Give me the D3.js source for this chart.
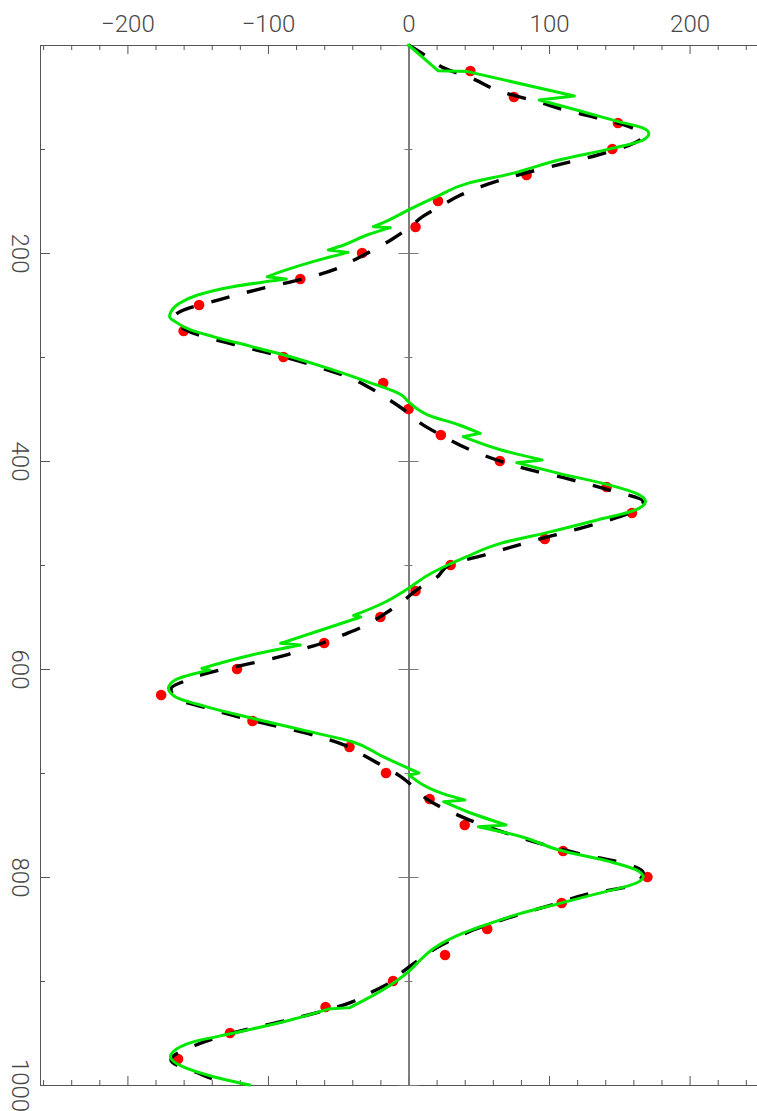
<!DOCTYPE html>
<html><head><meta charset="utf-8">
<script src="https://cdn.jsdelivr.net/npm/d3@7"></script>
<style>body{margin:0;background:#fff} svg{display:block}</style>
</head><body>
<svg id="c" width="757" height="1111"></svg>
<script>
// ---- data ----
const xMajorTicks = [-200, -100, 0, 100, 200];
const xMinorTicks = [-260,-240,-220,-180,-160,-140,-120,-80,-60,-40,-20,20,40,60,80,120,140,160,180,220,240,260];
const yMajorTicks = [0, 200, 400, 600, 800, 1000];
const yMinorTicks = [100, 300, 500, 700, 900];

const dotDepth = [25,50,75,100,125,150,175,200,225,250,275,300,325,350,375,400,425,450,475,500,525,550,575,600,625,650,675,700,725,750,775,800,825,850,875,900,925,950,975];
const dotValue = [44,75,149,145,84,21,5,-33,-77,-149,-160,-89,-18,0,23,65,141,159,97,30,5,-20,-60,-122,-176,-111,-42,-16,15,40,110,170,109,56,26,-11,-59,-127,-164];

const dashDepth = [0,11,22,32,45,55,61,70,79,88,94,106,115,125,136,145,154,165,176,187,197,207,215,225,234,245,256,262,271,278,288,297,308,321,330,340,350,364,375,391,400,409,417,428,439,449,458,468,477,490,500,512,521,539,547,559,567,575,580,587,596,600,604,611,619,628,637,650,662,673,683,692,703,715,726,736,745,758,769,779,787,796,808,816,826,838,851,859,868,878,891,902,912,920,937,950,962,976,990,1000];
const dashValue = [0,13,25,45,66,93,107,134,158,167,161,134,107,78,52,36,24,10,0,-12,-25,-39,-51,-75,-104,-135,-162,-167,-162,-151,-124,-97,-68,-40,-27,-15,-4,9,23,47,65,88,113,143,167,159,140,113,88,55,29,20,9,-8,-17,-32,-46,-61,-73,-88,-117,-131,-143,-158,-169,-166,-145,-110,-72,-46,-32,-20,-6,5,14,28,43,70,97,126,154,167,159,129,104,74,46,33,20,9,-4,-14,-28,-40,-84,-125,-152,-169,-147,-128];

const greenDepth = [0,24.7,25.6,49,52.9,63,73.7,80,85,91.3,99.4,110.6,123.4,133,145.8,158.6,168.3,174.7,175.6,182.7,192.3,197.1,199.4,208.3,216.3,222.8,225,232.4,240.4,248.4,256.4,261.2,266,274,280.4,290,299.7,311,323.7,336.5,343,355.8,365.4,373.4,376.6,389.4,399,401.6,411.9,423,431,439,447,456.7,467.9,479,491.9,500,509.6,522.4,537,548.5,550,562.5,575.3,577,586.5,599.4,601,610.6,618.6,626.6,636.2,649,660.2,670,684,700,702,720,726,727.6,737,750,751.6,761,774,785,793,800,806,816,825.6,835,841,854,867,883,891,904,917,925.6,927,937.5,950.3,958.3,968,972.8,982.4,992,1000];
const greenValue = [0,21,42,118,93,121,149.5,167,171,167,145,107,74,42,20,0,-14,-25,-13,-29.5,-46,-57,-43,-68,-87,-100.5,-87,-125,-150,-163,-169,-170,-166,-155,-139,-111.5,-84,-57,-29.5,-5,0,14,36,51,39,66,95,77,107,142.6,161.7,168.6,161.7,134.4,101.6,66,41.5,28,14,0,-18.6,-39,-34,-62,-91,-77,-111.5,-147,-141.5,-166,-170.8,-166,-144,-106,-70.5,-40,-18.6,7.4,0.5,25,40,25,41.5,69.4,49.7,79.8,107,142.6,161.7,167,161.7,134.4,107,79.8,66,38.8,19.7,6,0,-13,-29.5,-41.8,-57,-84,-125,-152.5,-167.5,-169.4,-160.7,-138.8,-113];
const greenJumpAt = [24.7,49,174.7,197.1,222.8,373.4,399,548.5,575.3,599.4,700,726,750,925.6];

// ---- chart ----
const svg = d3.select("#c");
const x = d3.scaleLinear().domain([-262.2, 262.2]).range([40, 777]);
const y = d3.scaleLinear().domain([0, 1000]).range([45, 1085]);
const axisColor = "#555";
const fontFam = "Roboto, 'Liberation Sans', Arial, sans-serif";

function style(g, color) {
  g.selectAll("path.domain").attr("stroke", color).attr("stroke-width", 1);
  g.selectAll(".tick line").attr("stroke", color).attr("stroke-width", 1);
}
function label(g) {
  g.selectAll("text").attr("font-family", fontFam).attr("font-weight", 300)
    .attr("font-size", 24).attr("fill", "#484848");
}

// top axis
const gTop = svg.append("g").attr("transform", `translate(0,${y(0)})`)
  .call(d3.axisTop(x).tickValues(xMajorTicks).tickSizeInner(-9).tickSizeOuter(0).tickPadding(13).tickFormat(d3.format("d")));
style(gTop, axisColor); label(gTop);
const gTopMin = svg.append("g").attr("transform", `translate(0,${y(0)})`)
  .call(d3.axisTop(x).tickValues(xMinorTicks).tickSizeInner(-5).tickSizeOuter(0).tickFormat(""));
style(gTopMin, axisColor);

// bottom axis
const gBot = svg.append("g").attr("transform", `translate(0,${y(1000)})`)
  .call(d3.axisBottom(x).tickValues(xMajorTicks).tickSizeInner(-9).tickSizeOuter(0).tickFormat(""));
style(gBot, axisColor);
const gBotMin = svg.append("g").attr("transform", `translate(0,${y(1000)})`)
  .call(d3.axisBottom(x).tickValues(xMinorTicks).tickSizeInner(-5).tickSizeOuter(0).tickFormat(""));
style(gBotMin, axisColor);

// left axis
const gLeft = svg.append("g").attr("transform", `translate(${x.range()[0]},0)`)
  .call(d3.axisLeft(y).tickValues(yMajorTicks).tickSizeInner(-10).tickSizeOuter(0)
    .tickFormat(d => d === 0 ? "" : d3.format("d")(d)));
style(gLeft, axisColor); label(gLeft);
gLeft.selectAll("text").attr("x", 0).attr("dy", null).attr("text-anchor", "middle")
  .attr("transform", "translate(-28,0) rotate(90)");
const gLeftMin = svg.append("g").attr("transform", `translate(${x.range()[0]},0)`)
  .call(d3.axisLeft(y).tickValues(yMinorTicks).tickSizeInner(-5).tickSizeOuter(0).tickFormat(""));
style(gLeftMin, axisColor);

// zero line with crossing ticks
const zc = "#777";
[d3.axisLeft, d3.axisRight].forEach(ax => {
  const g1 = svg.append("g").attr("transform", `translate(${x(0)},0)`)
    .call(ax(y).tickValues(yMajorTicks).tickSizeInner(10).tickSizeOuter(0).tickFormat(""));
  style(g1, zc);
  const g2 = svg.append("g").attr("transform", `translate(${x(0)},0)`)
    .call(ax(y).tickValues(yMinorTicks).tickSizeInner(4).tickSizeOuter(0).tickFormat(""));
  style(g2, zc);
});

// red dots
svg.append("g").selectAll("circle").data(dotDepth).join("circle")
  .attr("cx", (d, i) => x(dotValue[i])).attr("cy", d => y(d))
  .attr("r", 5.3).attr("fill", "#ff0000");

// dashed model
const dashPts = dashDepth.map((d, i) => [dashValue[i], d]);
const line = d3.line().x(p => x(p[0])).y(p => y(p[1])).curve(d3.curveMonotoneY);
svg.append("path").attr("d", line(dashPts))
  .attr("fill", "none").attr("stroke", "#000").attr("stroke-width", 3.4)
  .attr("stroke-dasharray", "19,18");

// green line with jumps
const gPts = greenDepth.map((d, i) => [greenValue[i], d]);
const segs = []; let cur = [gPts[0]];
for (let i = 1; i < gPts.length; i++) {
  cur.push(gPts[i]);
  if (greenJumpAt.includes(greenDepth[i]) && i < gPts.length - 1) {
    segs.push(cur);
    segs.push([gPts[i], gPts[i + 1]]);
    cur = [gPts[i + 1]];
    i++;
  }
}
segs.push(cur);
svg.append("path").attr("d", segs.map(s => line(s)).join(""))
  .attr("fill", "none").attr("stroke", "#00e800").attr("stroke-width", 3)
  .attr("stroke-linecap", "round").attr("stroke-linejoin", "round");
</script>
</body></html>
